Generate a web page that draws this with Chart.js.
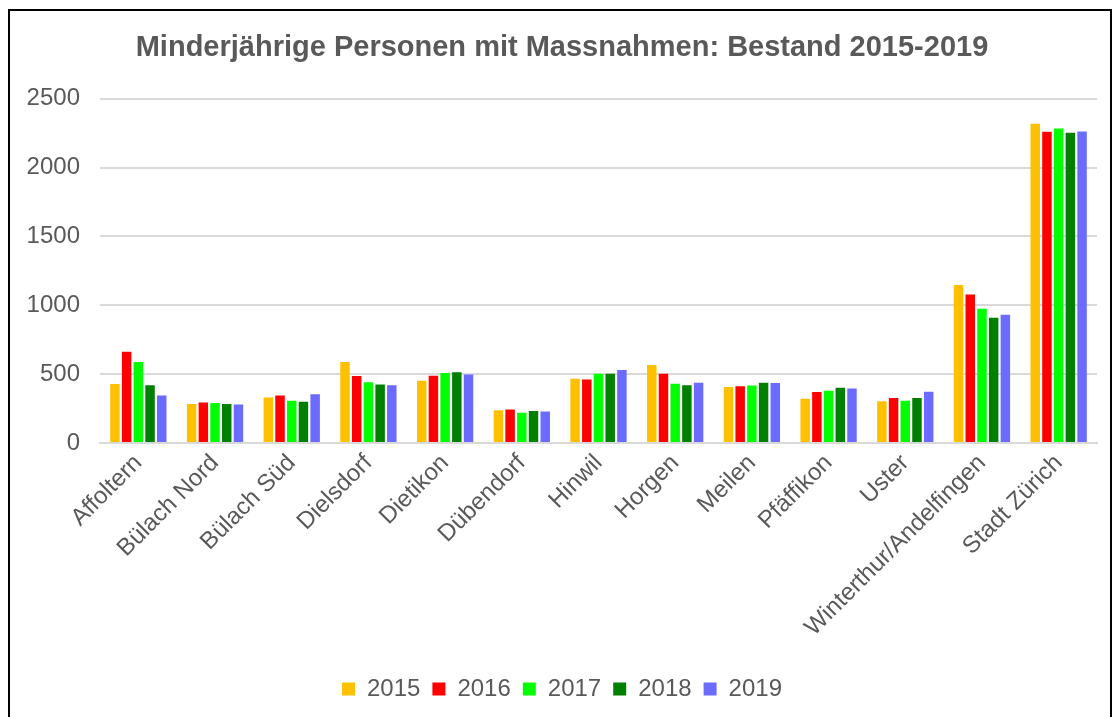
<!DOCTYPE html>
<html>
<head>
<meta charset="utf-8">
<script src="https://cdn.jsdelivr.net/npm/chart.js@4/dist/chart.umd.min.js"></script>
<style>
  html, body { margin: 0; padding: 0; background: #fff; }
  #frame {
    position: absolute; left: 8px; top: 9px; width: 1104px; height: 760px;
    border: 2px solid #000; box-sizing: border-box;
  }
  #wrap { position: absolute; left: 0; top: 0; width: 1116px; height: 717px; }
</style>
</head>
<body>
<div id="frame"></div>
<div id="wrap"><canvas id="chart" width="1116" height="717"></canvas></div>
<script>
const regions = ['Affoltern', 'Bülach Nord', 'Bülach Süd', 'Dielsdorf', 'Dietikon', 'Dübendorf',
  'Hinwil', 'Horgen', 'Meilen', 'Pfäffikon', 'Uster', 'Winterthur/Andelfingen', 'Stadt Zürich'];

const y2015 = [428, 284, 330, 588, 452, 238, 467, 566, 406, 321, 304, 1147, 2319];
const y2016 = [663, 294, 345, 486, 488, 243, 462, 503, 413, 370, 326, 1079, 2261];
const y2017 = [588, 290, 306, 442, 508, 219, 503, 430, 418, 379, 306, 975, 2285];
const y2018 = [420, 284, 299, 425, 513, 233, 503, 420, 437, 401, 326, 909, 2254];
const y2019 = [345, 280, 355, 420, 498, 228, 530, 437, 435, 396, 372, 931, 2263];

const years = ['2015', '2016', '2017', '2018', '2019'];
const colors = ['#FFC000', '#FF0000', '#00FF00', '#008000', '#6B6BFF'];
const series = [y2015, y2016, y2017, y2018, y2019];

const yTicks = [0, 500, 1000, 1500, 2000, 2500];

const textColor = '#595959';
const font = 'Liberation Sans, Arial, sans-serif';

const ctx = document.getElementById('chart').getContext('2d');
new Chart(ctx, {
  type: 'bar',
  data: {
    labels: regions,
    datasets: series.map((vals, i) => ({
      label: years[i],
      data: vals,
      backgroundColor: colors[i],
      borderWidth: 0,
      categoryPercentage: 0.763,
      barPercentage: 0.81
    }))
  },
  options: {
    responsive: false,
    animation: false,
    layout: { padding: { left: 27, right: 19, top: 0, bottom: 6 } },
    plugins: {
      title: {
        display: true,
        text: 'Minderjährige Personen mit Massnahmen: Bestand 2015-2019',
        color: textColor,
        font: { family: font, size: 29, weight: 'bold' },
        padding: { top: 31, bottom: 33 }
      },
      legend: {
        position: 'bottom',
        labels: {
          color: textColor,
          font: { family: font, size: 24 },
          boxWidth: 13,
          boxHeight: 13,
          padding: 12
        }
      },
      tooltip: { enabled: false }
    },
    scales: {
      x: {
        grid: { display: false, drawTicks: false },
        border: { display: true, color: '#D9D9D9', width: 2 },
        ticks: {
          color: textColor,
          font: { family: font, size: 24 },
          maxRotation: 45,
          minRotation: 45,
          padding: 6,
          autoSkip: false
        },
        afterFit: (axis) => { axis.height += 17; }
      },
      y: {
        min: 0,
        max: yTicks[yTicks.length - 1],
        afterBuildTicks: (axis) => { axis.ticks = yTicks.map(v => ({ value: v })); },
        afterFit: (axis) => { axis.width = 73; },
        grid: { color: '#D9D9D9', lineWidth: 2, drawTicks: false },
        border: { display: false },
        ticks: {
          color: textColor,
          font: { family: font, size: 24 },
          padding: 20,
          callback: (v) => String(v)
        }
      }
    }
  }
});
</script>
</body>
</html>
